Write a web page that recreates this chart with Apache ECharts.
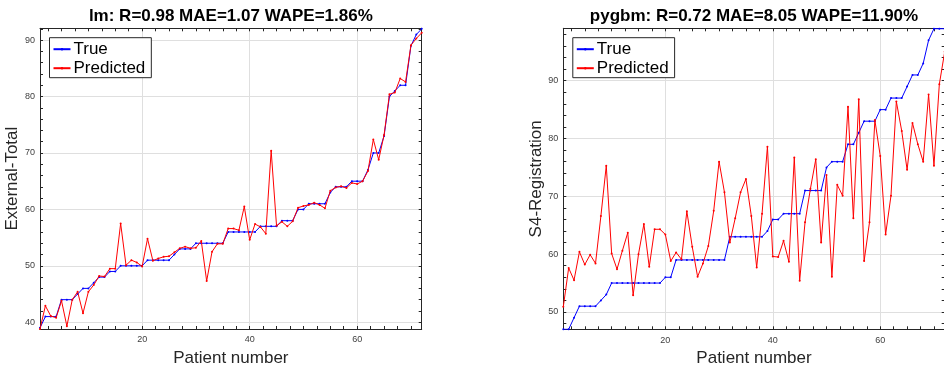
<!DOCTYPE html>
<html>
<head>
<meta charset="utf-8">
<script src="https://cdn.jsdelivr.net/npm/echarts@6/dist/echarts.min.js"></script>
<style>
  html, body { margin: 0; padding: 0; background: #ffffff; }
  #chart { width: 944px; height: 366px; }
</style>
</head>
<body>
<div id="chart"></div>
<script>
// Patients are sorted by their true score; both panels share the same ordering index.
const patients = [1,2,3,4,5,6,7,8,9,10,11,12,13,14,15,16,17,18,19,20,21,22,23,24,25,26,27,28,29,30,31,32,33,34,35,36,
  37,38,39,40,41,42,43,44,45,46,47,48,49,50,51,52,53,54,55,56,57,58,59,60,61,62,63,64,65,66,67,68,69,70,71,72];

// Linear model: External-Total
const lmTrue = [39,41,41,41,44,44,44,45,46,46,47,48,48,49,49,50,50,50,50,50,51,51,51,51,51,52,53,53,53,54,54,54,54,54,54,56,
  56,56,56,56,56,57,57,57,57,58,58,58,60,60,61,61,61,61,63,64,64,64,65,65,65,67,70,70,73,80,81,82,82,89,91,92];
const lmPred = [38.8,42.9,41.1,40.8,43.8,39.3,44.0,45.4,41.6,45.4,46.6,48.2,48.1,49.5,49.5,57.5,50.1,51.0,50.6,49.9,54.8,50.9,
  51.3,51.6,51.7,52.4,53.1,53.4,53.1,53.2,54.4,47.3,52.5,53.9,53.9,56.6,56.6,56.3,60.5,54.6,57.4,56.9,55.7,70.4,57.1,57.8,
  57.0,57.9,60.3,60.6,60.8,61.2,60.8,60.2,63.3,63.9,64.1,63.8,64.7,64.5,65.0,66.8,72.4,68.8,73.2,80.4,80.7,83.2,82.6,89.1,90.3,91.3];

// Gradient boosting model: S4-Registration
const gbmTrue = [47,47,49,51,51,51,51,52,53,55,55,55,55,55,55,55,55,55,55,56,56,59,59,59,59,59,59,59,59,59,59,63,63,63,63,63,
  63,63,64,66,66,67,67,67,67,71,71,71,71,75,76,76,76,79,79,81,83,83,83,85,85,87,87,87,89,91,91,93,97,99,99,99];
const gbmPred = [50.9,57.6,55.5,60.4,58.2,59.9,58.4,66.6,75.3,60.1,57.4,60.6,63.7,52.9,60.0,65.2,57.8,64.3,64.3,63.4,58.8,60.3,
  59.1,67.4,61.3,56.1,58.4,61.4,67.5,76.0,70.7,62.0,66.2,70.7,73.0,66.6,57.7,67.0,78.6,59.6,59.5,62.3,58.7,76.7,55.4,65.5,
  71.3,76.4,62.0,73.7,56.1,72.0,70.1,85.5,66.2,86.8,58.8,65.5,83.2,77.0,63.4,70.1,86.4,81.3,74.6,82.7,79.0,76.0,87.6,75.3,89.4,95.0];

// Axis labels and tick marks
const xLabels = [20, 40, 60];
const xTicks = [2.5,5,7.5,10,12.5,15,17.5,20,22.5,25,27.5,30,32.5,35,37.5,40,42.5,45,47.5,50,52.5,55,57.5,60,62.5,65,67.5,70];
const lmYLabels = [40, 50, 60, 70, 80, 90];
const lmYTicks = [40,42,44,46,48,50,52,54,56,58,60,62,64,66,68,70,72,74,76,78,80,82,84,86,88,90,92];
const gbmYLabels = [50, 60, 70, 80, 90];
const gbmYTicks = [48,50,52,54,56,58,60,62,64,66,68,70,72,74,76,78,80,82,84,86,88,90,92,94,96,98];

const panels = [
  { title: 'lm: R=0.98 MAE=1.07 WAPE=1.86%', yName: 'External-Total', yMin: 38.8, yMax: 92.1,
    yLabels: lmYLabels, yTicks: lmYTicks, truth: lmTrue, pred: lmPred, nameGap: 11 },
  { title: 'pygbm: R=0.72 MAE=8.05 WAPE=11.90%', yName: 'S4-Registration', yMin: 47, yMax: 99.07,
    yLabels: gbmYLabels, yTicks: gbmYTicks, truth: gbmTrue, pred: gbmPred, nameGap: 18 }
];

const FONT = "'Liberation Sans', Arial, Helvetica, sans-serif";
const AXIS = '#262626';
const GRIDLINE = '#dfdfdf';
const boxes = [
  { left: 40, top: 28.3, width: 381.7, height: 300.7 },
  { left: 563.3, top: 28.3, width: 381.4, height: 301 }
];

const option = {
  animation: false,
  backgroundColor: '#ffffff',
  textStyle: { fontFamily: FONT },
  // grids 0,1: grid lines only; grids 2,3: framed axes carrying the data
  grid: boxes.concat(boxes).map(g => Object.assign({ containLabel: false, outerBoundsMode: 'none' }, g)),
  title: panels.map((p, i) => ({
    text: p.title, left: boxes[i].left + boxes[i].width / 2, top: 8, padding: 0, textAlign: 'center',
    textStyle: { fontFamily: FONT, fontSize: 17, fontWeight: 'bold', color: '#000000' }
  })),
  legend: panels.map((p, i) => ({
    data: ['True', 'Predicted'], orient: 'vertical', selectedMode: false,
    left: boxes[i].left + 9.5, top: 37.7, padding: [3, 6, 1, 3], itemGap: 2,
    itemWidth: 17, itemHeight: 3,
    borderColor: AXIS, borderWidth: 1, borderRadius: 0, backgroundColor: '#ffffff',
    textStyle: { fontFamily: FONT, fontSize: 17, color: '#000000', padding: [0, 0, 0, -2] }
  })),
  xAxis: [],
  yAxis: [],
  series: []
};

const hidden = { axisLine: { show: false }, axisLabel: { show: false } };

// grid-line layers
panels.forEach((p, i) => {
  option.xAxis.push(Object.assign({
    type: 'value', gridIndex: i, min: 1, max: 72, splitNumber: 3,
    axisTick: { show: false, customValues: xLabels },
    splitLine: { show: true, lineStyle: { color: GRIDLINE, width: 1 } }
  }, hidden));
  option.yAxis.push(Object.assign({
    type: 'value', gridIndex: i, min: p.yMin, max: p.yMax, splitNumber: 5,
    axisTick: { show: false, customValues: p.yLabels },
    splitLine: { show: true, lineStyle: { color: GRIDLINE, width: 1 } }
  }, hidden));
});

// framed axes and data
panels.forEach((p, i) => {
  const g = i + 2;
  const xIdx = option.xAxis.length;
  option.xAxis.push({
    type: 'value', gridIndex: g, position: 'bottom', min: 1, max: 72, splitNumber: 3,
    axisLine: { show: true, onZero: false, lineStyle: { color: AXIS, width: 1 } },
    axisTick: { show: true, inside: true, length: 3, customValues: xTicks, lineStyle: { color: AXIS } },
    axisLabel: { customValues: xLabels, margin: 6.5, fontSize: 9, color: '#404040', fontFamily: FONT },
    splitLine: { show: false },
    name: 'Patient number', nameLocation: 'middle', nameGap: 16.5,
    nameTextStyle: { fontFamily: FONT, fontSize: 17, color: AXIS }
  });
  option.xAxis.push({
    type: 'value', gridIndex: g, position: 'top', min: 1, max: 72, splitNumber: 3,
    axisLine: { show: true, onZero: false, lineStyle: { color: AXIS, width: 1 } },
    axisTick: { show: true, inside: true, length: 3, customValues: xTicks, lineStyle: { color: AXIS } },
    axisLabel: { show: false }, splitLine: { show: false }
  });
  const yIdx = option.yAxis.length;
  option.yAxis.push({
    type: 'value', gridIndex: g, position: 'left', min: p.yMin, max: p.yMax, splitNumber: 5,
    axisLine: { show: true, onZero: false, lineStyle: { color: AXIS, width: 1 } },
    axisTick: { show: true, inside: true, length: 3, customValues: p.yTicks, lineStyle: { color: AXIS } },
    axisLabel: { customValues: p.yLabels, margin: 5, fontSize: 9, color: '#404040', fontFamily: FONT },
    splitLine: { show: false },
    name: p.yName, nameLocation: 'middle', nameGap: p.nameGap, nameRotate: 90,
    nameTextStyle: { fontFamily: FONT, fontSize: 17, color: AXIS }
  });
  option.yAxis.push({
    type: 'value', gridIndex: g, position: 'right', min: p.yMin, max: p.yMax, splitNumber: 5,
    axisLine: { show: true, onZero: false, lineStyle: { color: AXIS, width: 1 } },
    axisTick: { show: true, inside: true, length: 3, customValues: p.yTicks, lineStyle: { color: AXIS } },
    axisLabel: { show: false }, splitLine: { show: false }
  });

  option.series.push({
    name: 'True', type: 'line', xAxisIndex: xIdx, yAxisIndex: yIdx,
    data: patients.map((n, k) => [n, p.truth[k]]),
    symbol: 'circle', symbolSize: 2, showSymbol: true,
    lineStyle: { color: '#0000ff', width: 1 }, itemStyle: { color: '#0000ff' }, z: 3
  });
  option.series.push({
    name: 'Predicted', type: 'line', xAxisIndex: xIdx, yAxisIndex: yIdx,
    data: patients.map((n, k) => [n, p.pred[k]]),
    symbol: 'circle', symbolSize: 2, showSymbol: true,
    lineStyle: { color: '#ff0000', width: 1 }, itemStyle: { color: '#ff0000' }, z: 4
  });
});

const chart = echarts.init(document.getElementById('chart'), null, { renderer: 'canvas' });
chart.setOption(option);
</script>
</body>
</html>
